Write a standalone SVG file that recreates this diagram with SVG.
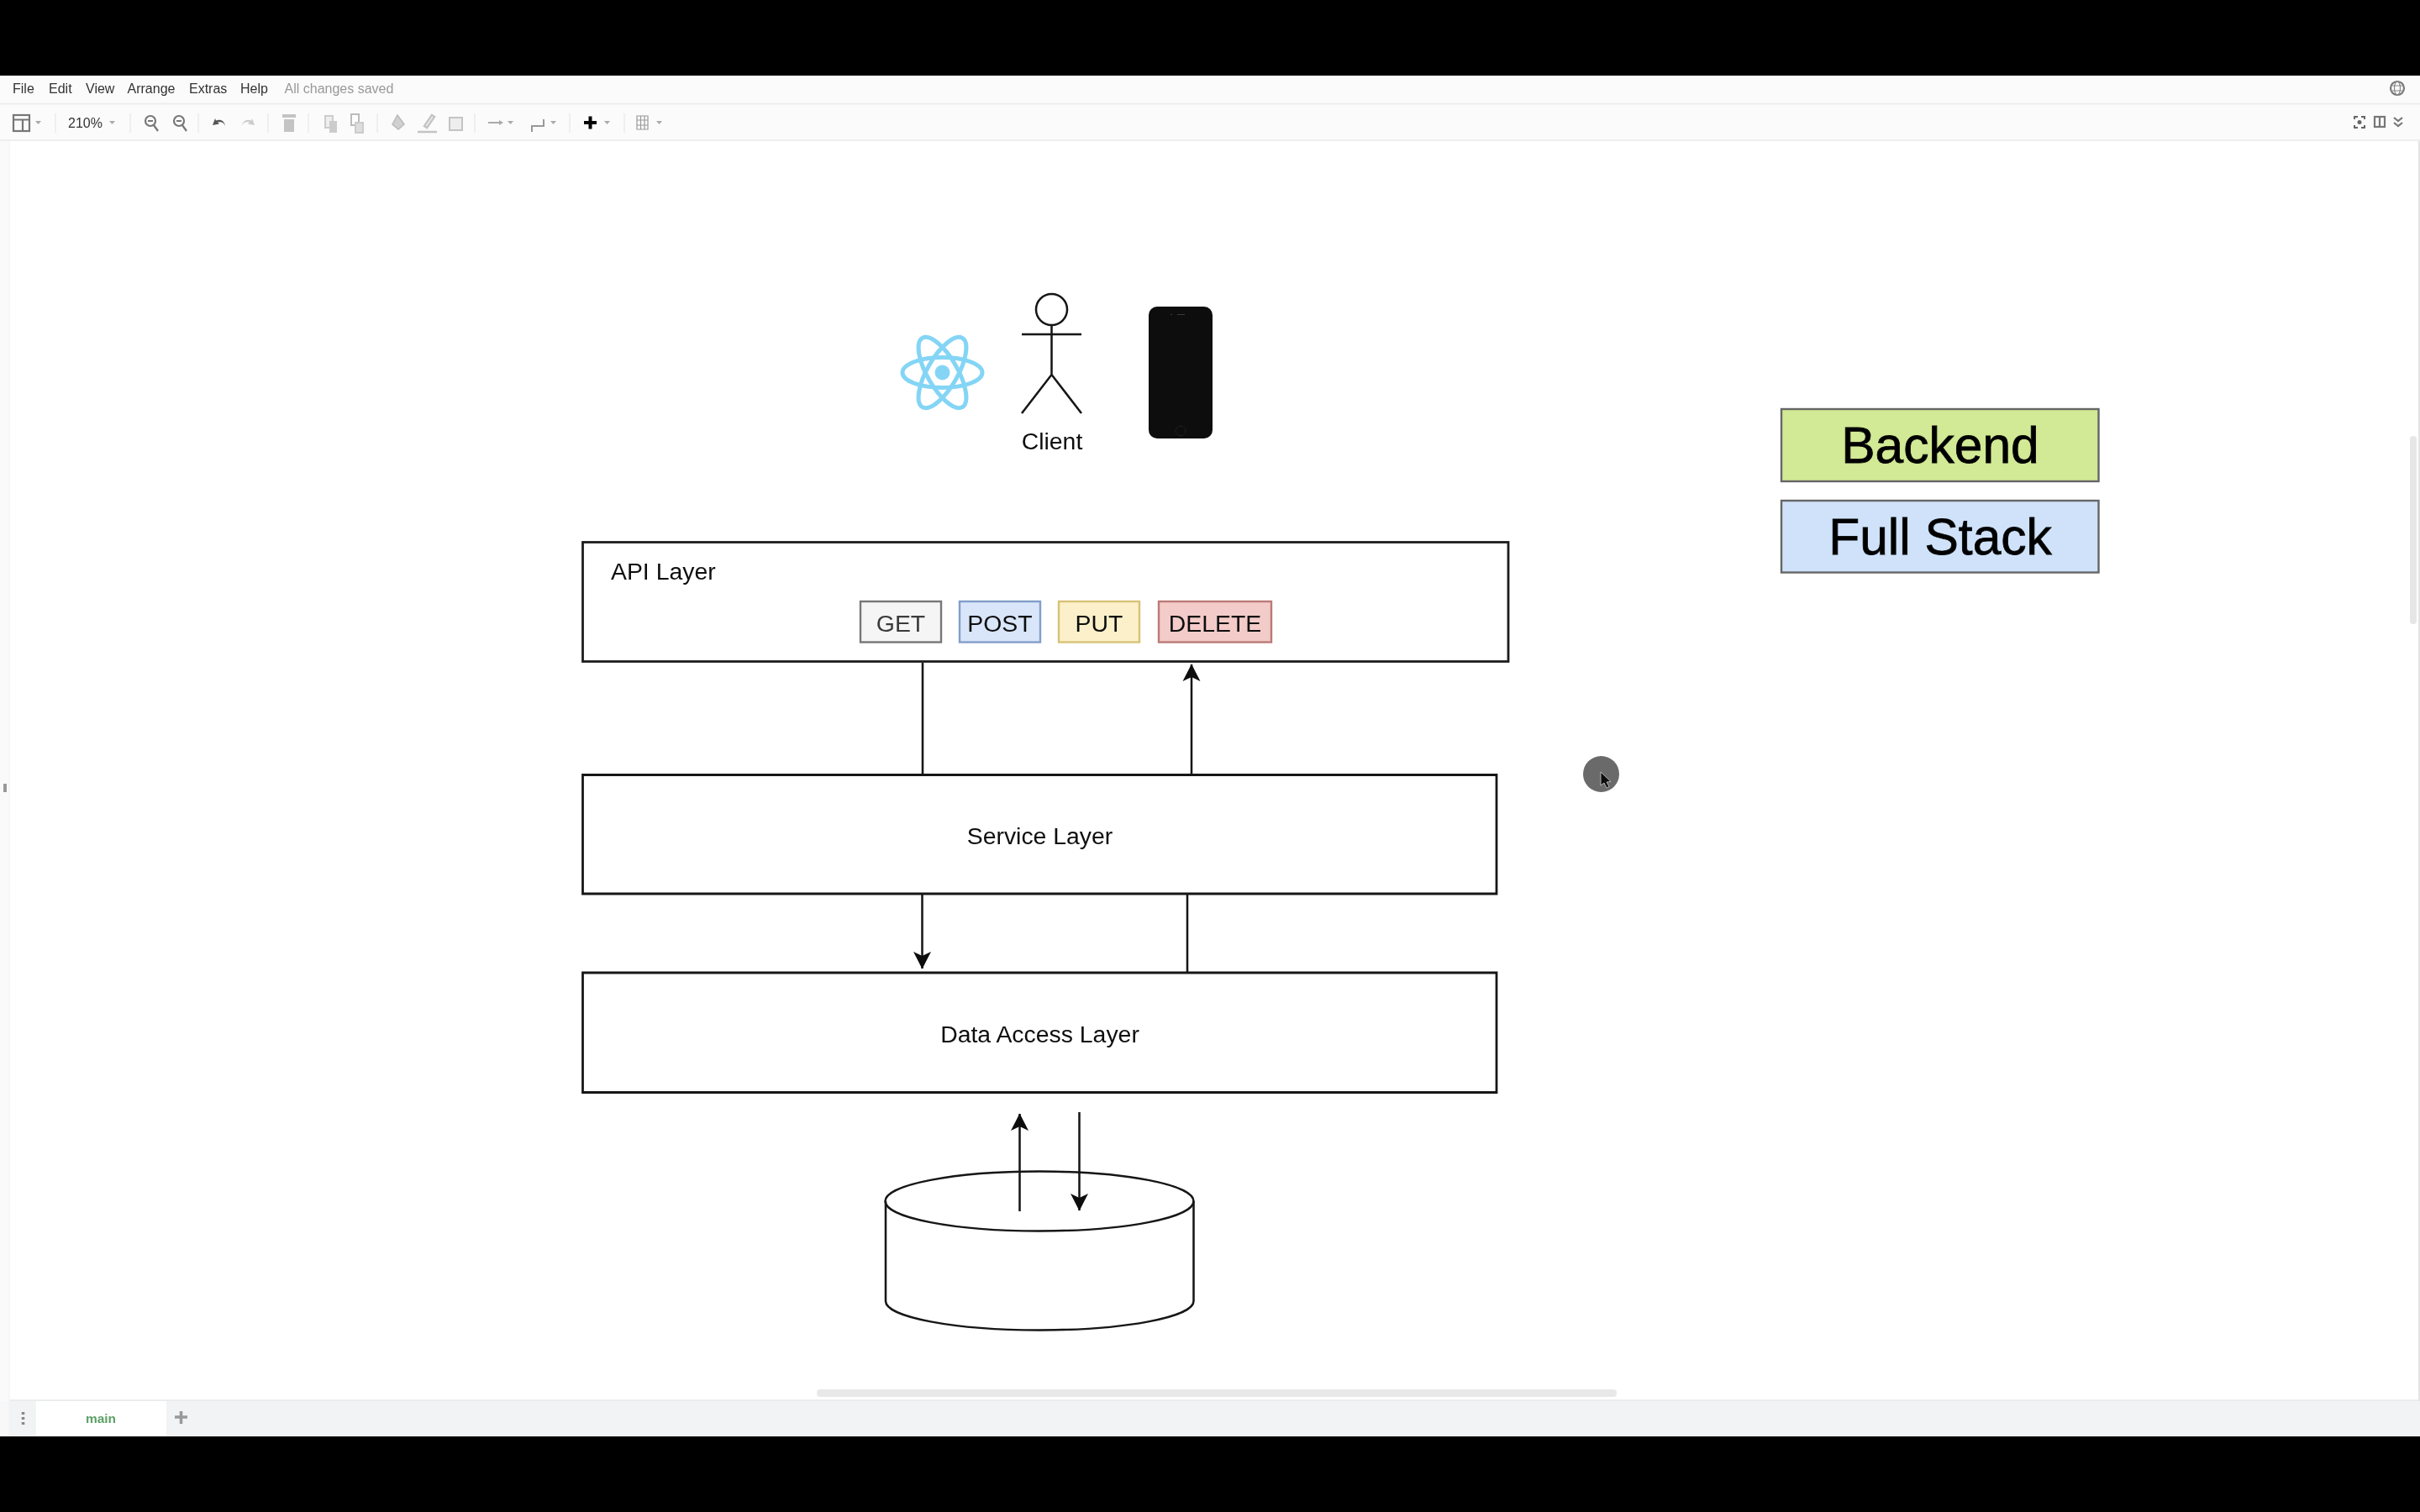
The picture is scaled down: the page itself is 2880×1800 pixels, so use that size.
<svg xmlns="http://www.w3.org/2000/svg" width="2880" height="1800" viewBox="0 0 2880 1800">
<style>
text{font-family:"Liberation Sans",Arial,sans-serif;fill:#111}
.b{fill:#fff;stroke:#1c1c1c;stroke-width:2.800}
.c{fill:none;stroke:#141414;stroke-width:2.500}
.w{stroke-width:2.800}
.l{font-size:28.400px;text-anchor:middle}
.t{stroke-width:2.400}
.big{font-size:60.500px;text-anchor:middle;fill:#050505;stroke:#050505;stroke-width:.8}
.m{font-size:16px;fill:#333}
.i{fill:none;stroke:#777;stroke-width:2.200}
.s{stroke:#ececec;stroke-width:1.500}
.d{fill:#aaa}
.soft{filter:url(#soft)}
</style>
<defs>
<filter id="soft" filterUnits="userSpaceOnUse" x="0" y="0" width="2880" height="1800"><feGaussianBlur stdDeviation="0.6"/></filter>
<marker id="a" markerUnits="userSpaceOnUse" markerWidth="24" markerHeight="24" refX="20" refY="12" orient="auto"><path d="M0 1.500 L20.500 12 L0 22.500 L5 12Z" fill="#0c0c0c"/></marker>
</defs>
<rect width="2880" height="1800" fill="#fff"/>
<g id="chrome" class="soft">
<rect y="90" width="2880" height="78" fill="#fbfbfb"/>
<path d="M0 123.500H2880M0 167H2880" stroke="#eee" stroke-width="2"/>
<rect y="1667" width="2880" height="43" fill="#f1f3f4"/>
<path d="M0 1667H2880" stroke="#e8e8e8" stroke-width="1.500"/>
<rect x="43" y="1668" width="155" height="42" fill="#fff"/>
<rect x="0" y="168" width="11" height="1500" fill="#fafafa"/>
<rect x="0" y="1668" width="11" height="42" fill="#f8f8f8"/>
<path d="M11 168V1710" stroke="#f4f4f4" stroke-width="1.500"/>
<rect x="4" y="933" width="4" height="10" fill="#999"/>
<path d="M2879 168V1668" stroke="#e4e4e4" stroke-width="2"/>
<rect x="2868" y="519" width="8" height="224" rx="4" fill="#e6e6e6"/>
<rect x="972" y="1654" width="952" height="9" rx="4" fill="#e8e8e8"/>
<text class="m" x="15" y="111">File</text>
<text class="m" x="58" y="111">Edit</text>
<text class="m" x="102" y="111">View</text>
<text class="m" x="151.500" y="111">Arrange</text>
<text class="m" x="225" y="111">Extras</text>
<text class="m" x="286" y="111">Help</text>
<text class="m" x="338.500" y="111" style="fill:#999">All changes saved</text>
<text class="m" x="81" y="151.500">210%</text>
<path class="s" d="M66 135V158M155 135V158M236 135V158M319 135V158M367 135V158M449 135V158M565 135V158M678 135V158M743 135V158"/>
<rect x="16" y="137" width="19" height="19" class="i"/><path d="M16 142.500H35M27 142.500V156" class="i"/>
<circle cx="179" cy="144" r="6" class="i"/><path d="M183 149l5 7M176 144h6" class="i"/>
<circle cx="213" cy="144" r="6" class="i"/><path d="M217 149l5 7M210 144h6" class="i"/>
<path d="M256 141l-3 8 8-1.500-2-2c4-1 8 0 9 5-.5-7-6-9-11-7z" fill="#555"/>
<path d="M300 141l3 8-8-1.500 2-2c-4-1-8 0-9 5 .5-7 6-9 11-7z" fill="#ccc"/>
<rect x="338" y="142" width="12" height="15" fill="#c4c4c4"/><rect x="336" y="136" width="16" height="4" fill="#c4c4c4"/>
<path d="M387 138h9v14h-9z" fill="#eee" stroke="#ccc" stroke-width="2"/><path d="M392 144h9v14h-9z" fill="#ccc"/>
<path d="M418 136h9v13h-9z" fill="#fff" stroke="#bbb" stroke-width="2"/><path d="M423 146h9v12h-9z" fill="#ddd" stroke="#ccc" stroke-width="2"/>
<path d="M473 137l8 11-7 6-7-6z" fill="#d0d0d0" stroke="#bbb" stroke-width="1.500"/>
<path d="M505 150l9-13 3 2-9 13zM497 157h23" stroke="#c4c4c4" stroke-width="2.500" fill="none"/>
<rect x="535" y="140" width="15" height="15" fill="#eee" stroke="#c4c4c4" stroke-width="2"/>
<path d="M581 146h13" stroke="#aaa" stroke-width="2"/><path d="M594 143l5 3-5 3z" fill="#aaa"/>
<path d="M633 157v-7h14v-8" stroke="#999" stroke-width="2" fill="none"/>
<path d="M695 146h15M702.500 138.500v15" stroke="#000" stroke-width="4"/>
<path d="M758 138h13v16h-13zM758 143h13M758 149h13M762.500 138v16M767 138v16" stroke="#999" stroke-width="1.200" fill="none"/>
<path class="d" d="M42 144h7l-3.500 4zM130 144h7l-3.500 4zM604 144h7l-3.500 4zM655 144h7l-3.500 4zM719 144h7l-3.500 4zM781 144h7l-3.500 4z"/>
<circle cx="2853" cy="105" r="8" class="i" stroke-width="1.800"/><path d="M2845 102h16M2845 108h16" stroke="#888" stroke-width="1.200"/><ellipse cx="2853" cy="105" rx="3.500" ry="8" fill="none" stroke="#888" stroke-width="1.200"/>
<path d="M2802 142v-3h4M2814 142v-3h-4M2802 149v3h4M2814 149v3h-4" stroke="#666" stroke-width="2" fill="none"/><circle cx="2808" cy="145.500" r="2.500" fill="#666"/>
<rect x="2826" y="139" width="12" height="12" class="i" stroke-width="1.500"/><path d="M2832 139v12" class="i" stroke-width="1.500"/>
<path d="M2849 140l5 4 5-4M2849 146l5 4 5-4" class="i" stroke-width="1.500"/>
<text x="120" y="1694" font-size="15.500" font-weight="700" text-anchor="middle" style="fill:#5ca066">main</text>
<path d="M208 1687h15M215.500 1680v15" stroke="#999" stroke-width="3.500"/>
<path d="M27.500 1681v3M27.500 1687v3M27.500 1693v3" stroke="#888" stroke-width="3.500"/>
</g>
<g id="connectors" class="soft">
<path class="c" d="M1098 789V922"/>
<path class="c" d="M1418 922V791" marker-end="url(#a)"/>
<path class="c" d="M1097.500 1064V1153" marker-end="url(#a)"/>
<path class="c" d="M1413 1064V1158"/>
</g>
<g id="api-layer" class="soft"><rect class="b" x="693.500" y="645.500" width="1101.500" height="142"/><text x="727" y="690" font-size="28.400">API Layer</text></g>
<g id="get" class="soft"><rect class="t" x="1024" y="716" width="96" height="48.500" fill="#f5f5f5" stroke="#777"/><text class="l" x="1072" y="752" style="fill:#3a3a3a">GET</text></g>
<g id="post" class="soft"><rect class="t" x="1142" y="716" width="96" height="48.500" fill="#d9e5f9" stroke="#829ec9"/><text class="l" x="1190" y="752">POST</text></g>
<g id="put" class="soft"><rect class="t" x="1260" y="716" width="96" height="48.500" fill="#fbf0c9" stroke="#d8c277"/><text class="l" x="1308" y="752">PUT</text></g>
<g id="delete" class="soft"><rect class="t" x="1379" y="716" width="134" height="48.500" fill="#f3cbc9" stroke="#bc7a77"/><text class="l" x="1446" y="752">DELETE</text></g>
<g id="service-layer" class="soft"><path class="c w" d="M693.500 922.500H1781V1064H693.500Z"/><text class="l" x="1237.500" y="1005">Service Layer</text></g>
<g id="data-layer" class="soft"><path class="c w" d="M693.500 1158H1781V1300.500H693.500Z"/><text class="l" x="1237.500" y="1241">Data Access Layer</text></g>
<g id="database" class="soft">
<path class="c" d="M1054 1430V1549C1054 1568 1136 1583.500 1237 1583.500S1420.500 1568 1420.500 1549V1430"/>
<ellipse class="c" cx="1237" cy="1430" rx="183.500" ry="35.500"/>
</g>
<g id="db-arrows" class="soft">
<path class="c" d="M1213.500 1442V1326" marker-end="url(#a)"/>
<path class="c" d="M1284.500 1324V1441" marker-end="url(#a)"/>
</g>
<g id="client" class="soft">
<circle class="c" cx="1251.500" cy="368.500" r="18.500"/>
<path class="c" d="M1251.500 387V446M1216 398H1287M1216 492L1251.500 446L1287 492"/>
<text class="l" x="1252" y="535">Client</text>
</g>
<g id="react" class="soft" fill="none" stroke="#84d5f5" stroke-width="5">
<ellipse cx="1121.500" cy="443.500" rx="47.500" ry="18"/>
<ellipse cx="1121.500" cy="443.500" rx="47.500" ry="18" transform="rotate(60 1121.500 443.500)"/>
<ellipse cx="1121.500" cy="443.500" rx="47.500" ry="18" transform="rotate(120 1121.500 443.500)"/>
<circle cx="1121.500" cy="443.500" r="9" fill="#84d5f5" stroke="none"/>
</g>
<g id="phone" class="soft">
<rect x="1367" y="365" width="76" height="157" rx="10" fill="#0b0b0b"/>
<rect x="1368" y="383" width="74" height="120" fill="#111"/>
<circle cx="1405" cy="513" r="6" fill="none" stroke="#242424"/>
<path d="M1401 374.500h9M1393 374.500h2" stroke="#3a3a3a"/>
</g>
<g id="backend" class="soft"><rect x="2120" y="487" width="377.500" height="86" fill="#d2e995" stroke="#666" stroke-width="2.400"/><text class="big" x="2309" y="550.500">Backend</text></g>
<g id="full-stack" class="soft"><rect x="2120" y="596" width="377.500" height="85.500" fill="#cfe2fa" stroke="#666" stroke-width="2.400"/><text class="big" x="2309" y="660">Full Stack</text></g>
<g id="cursor" class="soft"><circle cx="1905.500" cy="921.500" r="21.500" fill="#6b6b6b"/><path d="M1905 919v16l4-3 3 6 3-1.500-3-5.500 5-.5z" fill="#111" stroke="#ccc" stroke-width=".8"/></g>
<rect id="top-bar" width="2880" height="90" fill="#000"/>
<rect id="bottom-bar" y="1710" width="2880" height="90" fill="#000"/>
</svg>
